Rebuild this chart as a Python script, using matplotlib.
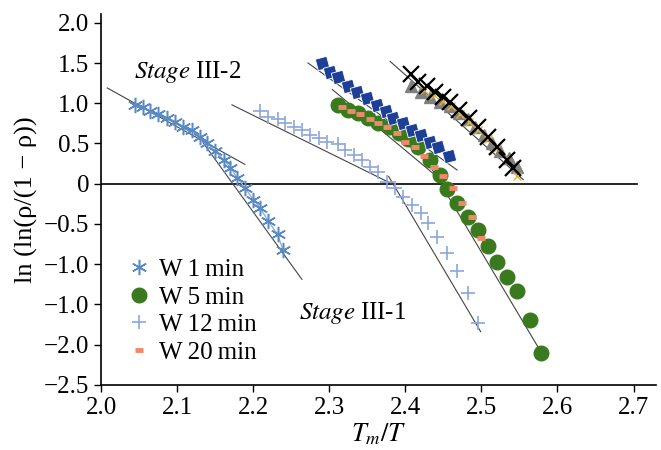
import numpy as np
import matplotlib.pyplot as plt

plt.rcParams['font.family'] = 'serif'
plt.rcParams['font.serif'] = ['Liberation Serif', 'Times New Roman', 'DejaVu Serif']
plt.rcParams['mathtext.fontset'] = 'stix'

# W 1 min
w1_x = [2.045, 2.055, 2.064, 2.075, 2.087, 2.097, 2.108, 2.120, 2.130, 2.139,
        2.150, 2.161, 2.170, 2.179, 2.189, 2.200, 2.209, 2.220, 2.232, 2.239]
w1_y = [0.98, 0.95, 0.90, 0.86, 0.82, 0.77, 0.71, 0.67, 0.58, 0.51,
        0.40, 0.30, 0.20, 0.07, -0.05, -0.20, -0.30, -0.47, -0.63, -0.82]

# W 5 min
w5_x = [2.312, 2.325, 2.338, 2.351, 2.364, 2.378, 2.391, 2.404, 2.417, 2.433,
        2.446, 2.455, 2.468, 2.482, 2.495, 2.508, 2.521, 2.534, 2.547, 2.564, 2.578]
w5_y = [0.98, 0.92, 0.88, 0.82, 0.76, 0.70, 0.63, 0.55, 0.45, 0.30,
        0.11, -0.07, -0.24, -0.41, -0.57, -0.78, -0.97, -1.16, -1.34, -1.69, -2.10]

# W 12 min
w12_x = [2.209, 2.220, 2.232, 2.242, 2.253, 2.264, 2.275, 2.286, 2.297, 2.311,
         2.321, 2.332, 2.343, 2.354, 2.364, 2.376, 2.387, 2.397, 2.409, 2.420,
         2.430, 2.442, 2.455, 2.468, 2.482, 2.495]
w12_y = [0.90, 0.83, 0.80, 0.76, 0.71, 0.67, 0.61, 0.57, 0.52, 0.49,
         0.42, 0.36, 0.30, 0.21, 0.14, 0.02, -0.05, -0.16, -0.26, -0.36,
         -0.49, -0.66, -0.86, -1.09, -1.36, -1.73]

# W 20 min
w20_x = [2.317, 2.328, 2.341, 2.354, 2.364, 2.376, 2.389, 2.400, 2.413, 2.424,
         2.437, 2.449, 2.462, 2.475, 2.488, 2.499]
w20_y = [0.95, 0.90, 0.86, 0.80, 0.76, 0.70, 0.63, 0.52, 0.45, 0.34,
         0.21, 0.09, -0.06, -0.24, -0.42, -0.67]

# unlabeled series
sq_x = [2.291, 2.301, 2.312, 2.324, 2.337, 2.350, 2.363, 2.374, 2.384, 2.397,
        2.409, 2.420, 2.433, 2.443, 2.457]
sq_y = [1.50, 1.39, 1.33, 1.21, 1.14, 1.07, 0.98, 0.90, 0.82, 0.76,
        0.67, 0.61, 0.52, 0.45, 0.34]

bx_x = [2.407, 2.417, 2.429, 2.439, 2.449, 2.459, 2.470, 2.483, 2.495, 2.508,
        2.521, 2.534, 2.542]
bx_y = [1.36, 1.27, 1.21, 1.14, 1.08, 1.01, 0.92, 0.82, 0.71, 0.58,
        0.45, 0.30, 0.20]

tri_x = [2.407, 2.420, 2.433, 2.446, 2.459, 2.470, 2.482, 2.492, 2.503, 2.514,
         2.525, 2.536, 2.547]
tri_y = [1.21, 1.14, 1.08, 1.02, 0.96, 0.88, 0.80, 0.71, 0.61, 0.51,
         0.40, 0.32, 0.21]

gx_x = [2.425, 2.437, 2.449, 2.460, 2.472, 2.484, 2.496, 2.508, 2.520, 2.532, 2.547]
gx_y = [1.16, 1.10, 1.03, 0.96, 0.87, 0.77, 0.67, 0.56, 0.44, 0.31, 0.10]

# fitted straight lines: (x0, y0, x1, y1)
fit_lines = [
    (2.008, 1.19, 2.189, 0.24),
    (2.134, 0.51, 2.264, -1.19),
    (2.172, 0.98, 2.384, -0.01),
    (2.378, 0.09, 2.499, -1.84),
    (2.304, 1.17, 2.445, 0.06),
    (2.435, 0.18, 2.575, -2.04),
    (2.272, 1.50, 2.468, 0.17),
    (2.380, 1.52, 2.555, 0.05),
]

yticks = [2.0, 1.5, 1.0, 0.5, 0, -0.5, -1.0, -1.5, -2.0, -2.5]
ytick_labels = ['2.0', '1.5', '1.0', '0.5', '0', '\u22120.5', '\u22121.0',
                '\u22121.0', '\u22122.0', '\u22122.5']
xticks = [2.0, 2.1, 2.2, 2.3, 2.4, 2.5, 2.6, 2.7]

fig = plt.figure(figsize=(6.61, 4.5), dpi=100)
ax = fig.add_axes([0.153, 0.145, 0.84, 0.824])

for x0, y0, x1, y1 in fit_lines:
    ax.plot([x0, x1], [y0, y1], color='#444444', lw=0.8, zorder=2)

ax.plot([2.0, 2.705], [0, 0], color='black', lw=1.2, zorder=1)

ax.plot(w1_x, w1_y, color='#8fb1dc', lw=1.0, zorder=3)
ax.plot(w1_x, w1_y, ls='none', marker=(6, 2, 0), ms=11, mec='#5a8ac4',
        mew=1.1, zorder=3, label='W\u20091\u2009min')
ax.plot(w5_x, w5_y, 'o', color='#3a7a1e', ms=10.5, zorder=3,
        label='W\u20095\u2009min')
ax.plot(w12_x, w12_y, '+', color='#8ea5dc', ms=10, mew=1.2, zorder=3,
        label='W\u200912\u2009min')
ax.plot(w20_x, w20_y, '_', color='#f0896a', ms=6, mew=3.5, zorder=4,
        label='W\u200920\u2009min')

ax.plot(sq_x, sq_y, marker=(4, 0, 60), ls='none', color='#1d3f96', ms=12,
        mec='white', mew=0.6, zorder=3)
ax.plot(tri_x, tri_y, '^', color='#808080', ms=9, zorder=3)
ax.plot(gx_x, gx_y, 'x', color='#e3b33c', ms=6, mew=1.0, zorder=4)
ax.plot(bx_x, bx_y, 'x', color='black', ms=12, mew=1.6, zorder=5)

ax.text(2.043, 1.31, r'$\mathit{Stage}$ III-2', fontsize=18)
ax.text(2.26, -1.68, r'$\mathit{Stage}$ III-1', fontsize=18)

ax.set_xlim(2.0, 2.73)
ax.set_ylim(-2.5, 2.11)
ax.set_xticks(xticks)
ax.set_xticklabels([f'{t:.1f}' for t in xticks])
ax.set_yticks(yticks)
ax.set_yticklabels(ytick_labels)
ax.tick_params(labelsize=18, direction='out', length=5, width=1)
ax.spines['top'].set_visible(False)
ax.spines['right'].set_visible(False)
ax.spines['left'].set_linewidth(1.2)
ax.spines['bottom'].set_linewidth(1.2)

ax.set_xlabel('$T_m/T$', fontsize=19, labelpad=2)
ax.set_ylabel('ln (ln(\u03c1/(1 \u2212 \u03c1))', fontsize=19, labelpad=4)

ax.legend(loc='lower left', bbox_to_anchor=(0.015, 0.01), frameon=False,
          fontsize=18, handlelength=1.0, handletextpad=0.3, labelspacing=0.2,
          borderpad=0.2)

fig.savefig('out.png', dpi=100)
